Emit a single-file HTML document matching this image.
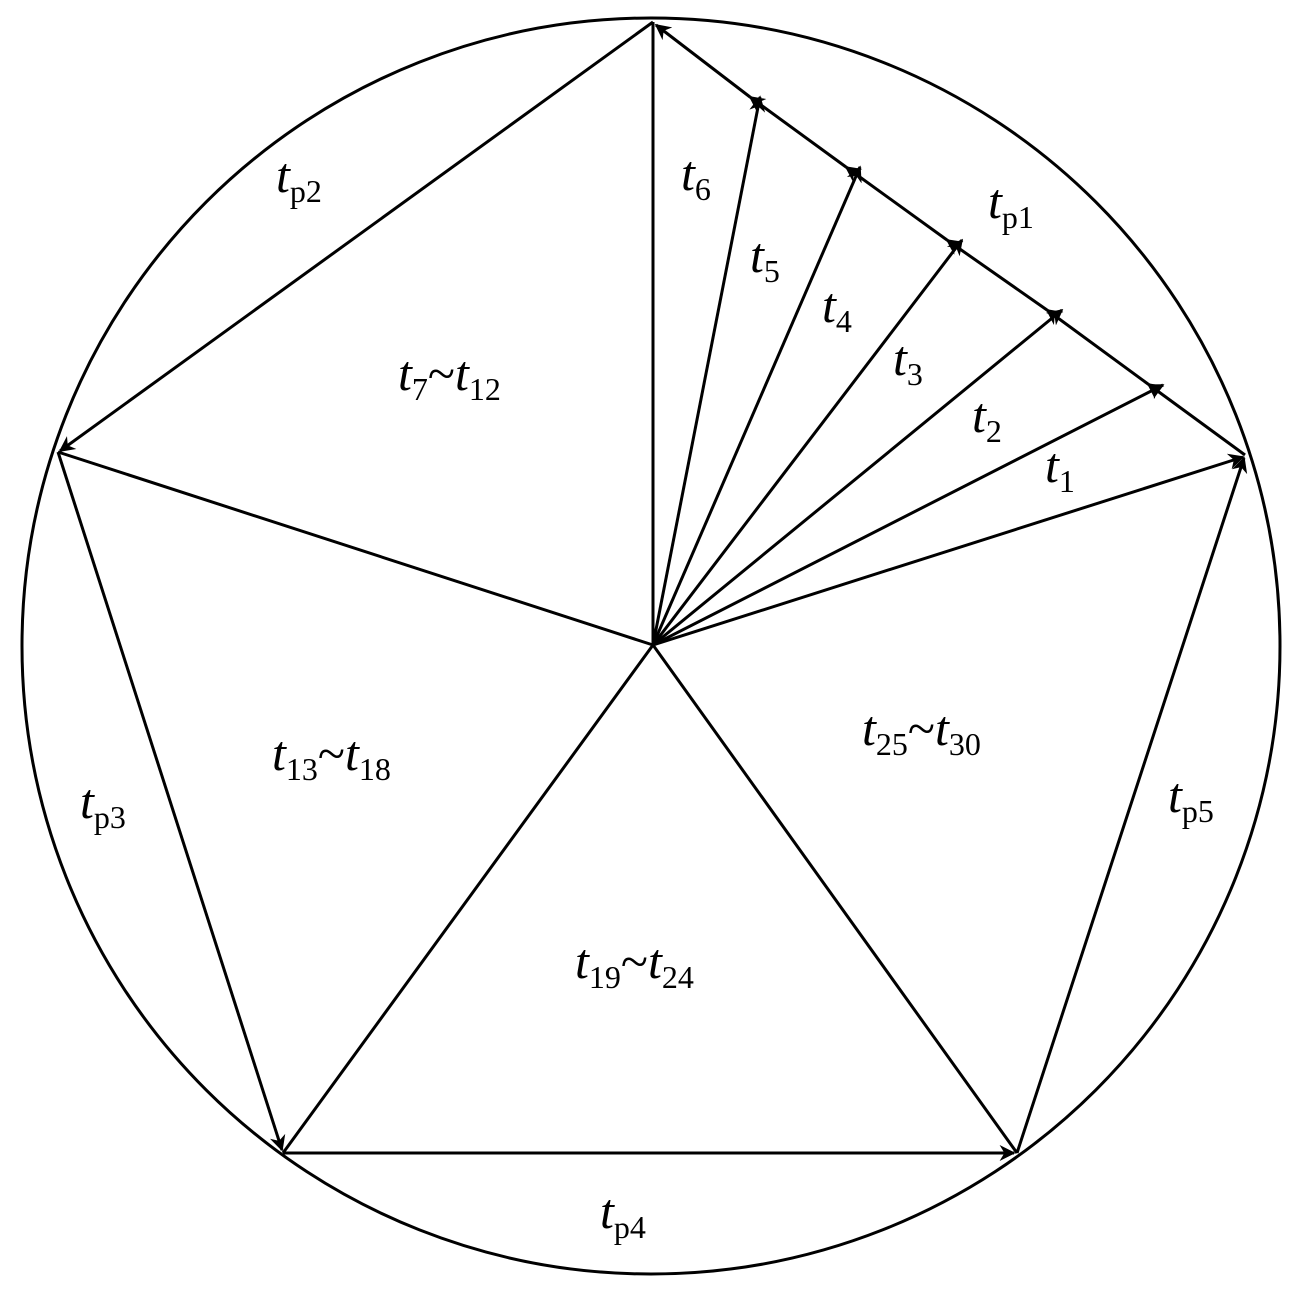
<!DOCTYPE html>
<html><head><meta charset="utf-8"><style>
html,body{margin:0;padding:0;background:#fff;}
svg text{font-family:"Liberation Serif",serif;font-size:50px;fill:#000;}
.s{font-style:normal;font-size:32px;}
</style></head><body>
<svg width="1299" height="1291" viewBox="0 0 1299 1291" xmlns="http://www.w3.org/2000/svg">
<defs>
<marker id="a" viewBox="0 0 10 10" refX="9" refY="5" markerWidth="9" markerHeight="9" markerUnits="userSpaceOnUse" orient="auto">
<path d="M0,1 L10,5 L0,9 z" fill="#000"/></marker>
<marker id="b" viewBox="0 0 10 10" refX="9" refY="5" markerWidth="22" markerHeight="16" markerUnits="userSpaceOnUse" orient="auto">
<path d="M0,0 L10,5 L0,10 L3,5 z" fill="#000"/></marker>
</defs>
<g stroke="#000" stroke-width="3" fill="none">
<ellipse cx="651" cy="646" rx="629" ry="628"/>
<!-- pentagon edges with arrows -->
<line x1="653" y1="22" x2="60" y2="451" marker-end="url(#b)"/>
<line x1="58" y1="452" x2="282" y2="1150" marker-end="url(#b)"/>
<line x1="283" y1="1153" x2="1014" y2="1153" marker-end="url(#b)"/>
<line x1="1017" y1="1153" x2="1244" y2="458" marker-end="url(#b)"/>
<!-- tp1 edge segments -->
<line x1="1245" y1="455" x2="1148" y2="384" marker-end="url(#b)"/>
<line x1="1148" y1="384" x2="1047" y2="310" marker-end="url(#b)"/>
<line x1="1047" y1="310" x2="947" y2="240" marker-end="url(#b)"/>
<line x1="947" y1="240" x2="846" y2="167" marker-end="url(#b)"/>
<line x1="846" y1="167" x2="750" y2="97" marker-end="url(#b)"/>
<line x1="750" y1="97" x2="656" y2="25" marker-end="url(#b)"/>
<!-- center spokes -->
<line x1="653" y1="645" x2="58" y2="452"/>
<line x1="653" y1="645" x2="283" y2="1153"/>
<line x1="653" y1="645" x2="1017" y2="1153"/>
<line x1="653" y1="645" x2="653" y2="22"/>
<line x1="653" y1="645" x2="1243" y2="457" marker-end="url(#b)"/>
<line x1="653" y1="645" x2="1163" y2="385" marker-end="url(#b)"/>
<line x1="653" y1="645" x2="1062" y2="310" marker-end="url(#b)"/>
<line x1="653" y1="645" x2="962" y2="240" marker-end="url(#b)"/>
<line x1="653" y1="645" x2="860" y2="167" marker-end="url(#b)"/>
<line x1="653" y1="645" x2="760" y2="97" marker-end="url(#b)"/>
</g>
<g font-style="italic">
<text x="276" y="192">t<tspan class="s" dy="10">p2</tspan></text>
<text x="988" y="218">t<tspan class="s" dy="10">p1</tspan></text>
<text x="681" y="190">t<tspan class="s" dy="10">6</tspan></text>
<text x="750" y="272">t<tspan class="s" dy="10">5</tspan></text>
<text x="822" y="322">t<tspan class="s" dy="10">4</tspan></text>
<text x="893" y="375">t<tspan class="s" dy="10">3</tspan></text>
<text x="972" y="432">t<tspan class="s" dy="10">2</tspan></text>
<text x="1045" y="482">t<tspan class="s" dy="10">1</tspan></text>
<text x="398" y="390">t<tspan class="s" dy="10">7</tspan><tspan dy="-10" style="font-style:normal">~</tspan>t<tspan class="s" dy="10">12</tspan></text>
<text x="272" y="770">t<tspan class="s" dy="10">13</tspan><tspan dy="-10" style="font-style:normal">~</tspan>t<tspan class="s" dy="10">18</tspan></text>
<text x="862" y="745">t<tspan class="s" dy="10">25</tspan><tspan dy="-10" style="font-style:normal">~</tspan>t<tspan class="s" dy="10">30</tspan></text>
<text x="575" y="978">t<tspan class="s" dy="10">19</tspan><tspan dy="-10" style="font-style:normal">~</tspan>t<tspan class="s" dy="10">24</tspan></text>
<text x="80" y="818">t<tspan class="s" dy="10">p3</tspan></text>
<text x="1168" y="812">t<tspan class="s" dy="10">p5</tspan></text>
<text x="600" y="1228">t<tspan class="s" dy="10">p4</tspan></text>
</g>
</svg>
</body></html>
